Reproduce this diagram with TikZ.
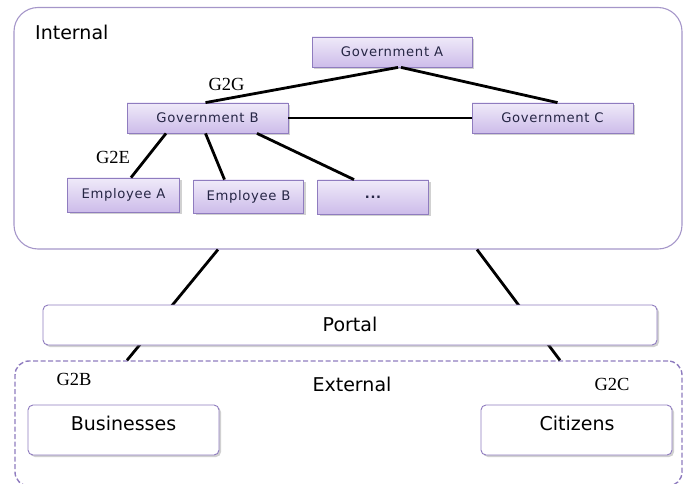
\documentclass[tikz,border=0pt]{standalone}
\usepackage{fontspec}
\newfontfamily\dvfont{DejaVu Sans}
\newfontfamily\dvwide[LetterSpace=5]{DejaVu Sans}
\newfontfamily\tmfont{Liberation Serif}
\usetikzlibrary{shadows,calc}
\definecolor{lavtop}{HTML}{EFEAF9}
\definecolor{lavbot}{HTML}{CDBCEA}
\definecolor{lavline}{HTML}{8F7CBF}
\definecolor{frameline}{HTML}{A596C9}
\definecolor{boxtext}{HTML}{262645}
\tikzset{
  govbox/.style={draw=lavline, line width=0.8pt, top color=lavtop, bottom color=lavbot,
    drop shadow={shadow xshift=2pt, shadow yshift=-2pt, opacity=0.3, fill=black!60},
    inner sep=0pt, text=boxtext, font=\dvwide\fontsize{13.2}{15}\selectfont},
  whitebox/.style={draw=lavline, line width=0.9pt, fill=white, rounded corners=5pt,
    drop shadow={shadow xshift=2pt, shadow yshift=-2pt, opacity=0.3, fill=black!60},
    inner sep=0pt},
  bigtext/.style={font=\dvfont\fontsize{19}{21}\selectfont, text=black, inner sep=0pt},
  serlab/.style={font=\tmfont\fontsize{18.5}{20}\selectfont, text=black, inner sep=0pt},
  conn/.style={line width=2.8pt, black},
}
\begin{document}
\begin{tikzpicture}[x=1pt,y=-1pt]
\useasboundingbox (0,0) rectangle (683,484);
% frames
\node (int) [draw=frameline, line width=1.1pt, rounded corners=24pt, minimum width=668pt, minimum height=241.5pt, inner sep=0pt] at (348,128.25) {};
\node (ext) [draw=lavline, line width=1.4pt, dash pattern=on 5pt off 2.5pt, rounded corners=14pt, minimum width=667pt, minimum height=125pt, inner sep=0pt] at (348.5,423.5) {};
% connectors between frames (behind portal)
\draw[conn] ([xshift=-130pt]int.south) -- ([xshift=-221.5pt]ext.north);
\draw[conn] ([xshift=129pt]int.south) -- ([xshift=211.5pt]ext.north);
% portal
\node (portal) [whitebox, minimum width=614pt, minimum height=40pt] at (350,325) {};
\node (portalT) [bigtext] at (350,324) {Portal};
% internal labels
\node (intT) [bigtext, anchor=west] at (35,32) {Internal};
% government boxes
\node (govA) [govbox, minimum width=160pt, minimum height=30pt] at (392,52) {Government A};
\node (govB) [govbox, minimum width=161pt, minimum height=30pt] at (207.5,118) {Government B};
\node (govC) [govbox, minimum width=161pt, minimum height=30pt] at (552.5,118) {Government C};
\node (empA) [govbox, minimum width=112pt, minimum height=34pt] at (123.5,195) {Employee A};
\node (empB) [govbox, minimum width=110pt, minimum height=33pt] at (248.5,196.5) {Employee B};
\node (dots) [govbox, minimum width=111pt, minimum height=34pt, font=\dvwide\bfseries\fontsize{13}{14}\selectfont] at (373,197) {...};
% connectors internal
\draw[conn] ([xshift=6pt]govA.south) -- ([xshift=-2pt]govB.north);
\draw[conn] ([xshift=9pt]govA.south) -- ([xshift=5pt]govC.north);
\draw[conn] (govB.east) -- (govC.west);
\draw[conn] ([xshift=-41.5pt]govB.south) -- ([xshift=7.5pt]empA.north);
\draw[conn] ([xshift=-2pt]govB.south) -- ([xshift=-24pt]empB.north);
\draw[conn] ([xshift=49.5pt]govB.south) -- ([xshift=-19pt]dots.north);
% serif labels
\node (g2g) [serlab] at (226.5,84.5) {G2G};
\node (g2e) [serlab] at (113,157.5) {G2E};
% external
\node (extT) [bigtext] at (352,384) {External};
\node (g2b) [serlab] at (74,379.5) {G2B};
\node (g2c) [serlab] at (612,384.5) {G2C};
\node (bus) [whitebox, minimum width=191pt, minimum height=50pt] at (123.5,430) {};
\node (busT) [bigtext] at (123.5,423) {Businesses};
\node (cit) [whitebox, minimum width=191pt, minimum height=50pt] at (576.5,430) {};
\node (citT) [bigtext] at (577,423) {Citizens};
\end{tikzpicture}
\end{document}
